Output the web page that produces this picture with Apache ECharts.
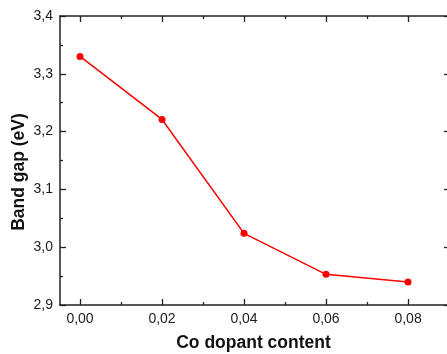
<!DOCTYPE html>
<html>
<head>
<meta charset="utf-8">
<script src="https://cdn.jsdelivr.net/npm/echarts@6/dist/echarts.min.js"></script>
<style>
html,body{margin:0;padding:0;background:#fff;}
#chart{width:447px;height:354px;}
</style>
</head>
<body>
<div id="chart"></div>
<script>
var coContent = [0.00, 0.02, 0.04, 0.06, 0.08];
var bandGap = [3.330, 3.221, 3.024, 2.953, 2.940];
var xMajorTicks = [0.00, 0.02, 0.04, 0.06, 0.08];
var xMinorTicks = [0.01, 0.03, 0.05, 0.07];
var xTitle = 'Co dopant content';
var yTitle = 'Band gap (eV)';

var fmtX = function (v) { return v.toFixed(2).replace('.', ','); };
var fmtY = function (v) { return v.toFixed(1).replace('.', ','); };

var axisCol = '#222';
var font = 'Liberation Sans, Arial, sans-serif';
var X_MIN = -0.00488, X_MAX = 0.0895;

function xAxisDef(pos, major, showLine, showLabel, name) {
  return {
    type: 'value', position: pos, min: X_MIN, max: X_MAX,
    splitLine: { show: false },
    axisLine: { show: showLine, onZero: false, lineStyle: { color: axisCol, width: 1.5 } },
    axisTick: { show: true, inside: true, length: major ? 6 : 3,
      customValues: major ? xMajorTicks : xMinorTicks,
      lineStyle: { color: axisCol, width: 1.3 } },
    axisLabel: { show: showLabel, customValues: xMajorTicks, formatter: fmtX,
      margin: 7, fontSize: 14, color: '#1a1a1a', fontFamily: font },
    name: name || '', nameLocation: 'middle', nameGap: 29,
    nameTextStyle: { fontSize: 17.5, fontWeight: 'bold', color: '#111', fontFamily: font }
  };
}

function yAxisDef(pos, showLabel) {
  return {
    type: 'value', position: pos, min: 2.9, max: 3.4, interval: 0.1,
    offset: showLabel ? 0 : 3,
    splitLine: { show: false },
    axisLine: { show: showLabel, onZero: false, lineStyle: { color: axisCol, width: 1.5 } },
    axisTick: { show: true, inside: true, length: 6, lineStyle: { color: axisCol, width: 1.3 } },
    minorTick: { show: true, splitNumber: 2, length: 3, lineStyle: { color: axisCol, width: 1.3 } },
    minorSplitLine: { show: false },
    axisLabel: { show: showLabel, formatter: fmtY, margin: 7, fontSize: 14,
      color: '#1a1a1a', fontFamily: font }
  };
}

var chart = echarts.init(document.getElementById('chart'), null, { renderer: 'canvas' });
chart.setOption({
  animation: false,
  backgroundColor: '#fff',
  grid: { left: 60, top: 16, right: 0, height: 289, containLabel: false, outerBoundsMode: 'none' },
  xAxis: [
    xAxisDef('bottom', true, true, true, xTitle),
    xAxisDef('bottom', false, false, false),
    xAxisDef('top', true, true, false),
    xAxisDef('top', false, false, false)
  ],
  yAxis: [ yAxisDef('left', true), yAxisDef('right', false) ],
  graphic: [{
    type: 'text', x: 19, y: 172, rotation: Math.PI / 2,
    style: { text: yTitle, fontSize: 17.5, fontWeight: 'bold', fill: '#111',
      fontFamily: font, textAlign: 'center', textVerticalAlign: 'middle' }
  }],
  series: [{
    type: 'line', xAxisIndex: 0, yAxisIndex: 0,
    data: coContent.map(function (x, i) { return [x, bandGap[i]]; }),
    symbol: 'circle', symbolSize: 7,
    lineStyle: { color: '#ff0000', width: 1.5 },
    itemStyle: { color: '#ff0000' }
  }]
});
</script>
</body>
</html>
